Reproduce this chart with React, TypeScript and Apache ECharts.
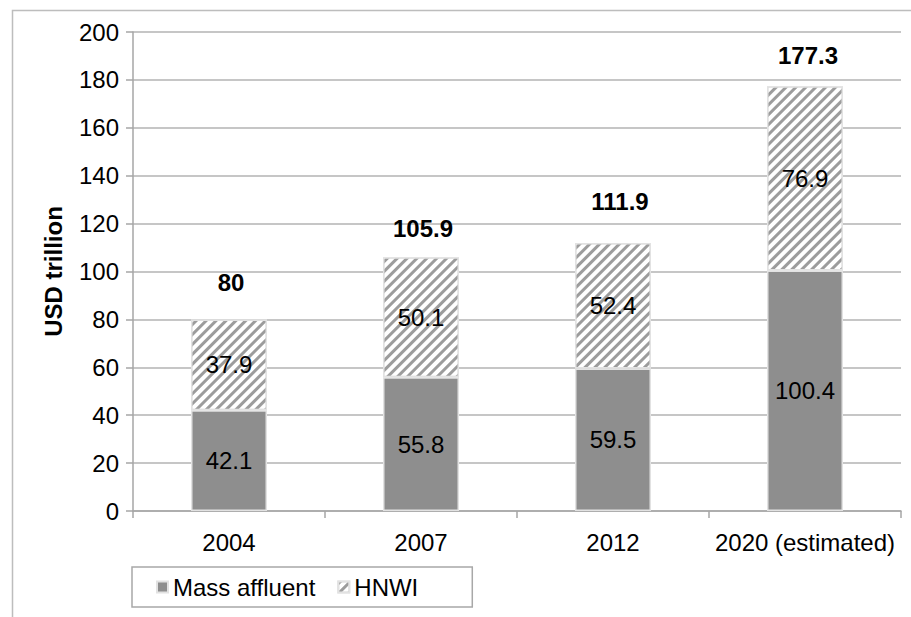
import React, { useEffect, useRef } from "react";
import * as echarts from "echarts";

const categories = ["2004", "2007", "2012", "2020 (estimated)"];
const massAffluent = [42.1, 55.8, 59.5, 100.4];
const hnwi = [37.9, 50.1, 52.4, 76.9];
const totals = [80, 105.9, 111.9, 177.3];
const yTicks = { min: 0, max: 200, interval: 20 };

const FONT = "'Liberation Sans', Arial, sans-serif";
const FS = 24;
const totalLabelDistance = [25, 17, 29, 19];
const totalLabelShiftX = [2, 2, 7, 3];

export default function App() {
  const ref = useRef<HTMLDivElement>(null);
  useEffect(() => {
    if (!ref.current) return;
    const chart = echarts.init(ref.current, undefined, { renderer: "svg" });
    const hatch = {
      symbol: "rect",
      symbolSize: 1,
      dashArrayX: [1, 0],
      dashArrayY: [3, 3.6],
      rotation: -Math.PI / 4,
      color: "#9c9c9c",
      backgroundColor: "#ffffff",
    };
    const lbl = {
      show: true,
      position: "inside",
      fontSize: FS,
      color: "#000",
      textBorderWidth: 0,
      fontFamily: FONT,
    };
    chart.setOption({
      animation: false,
      backgroundColor: "#ffffff",
      textStyle: { fontFamily: FONT },
      graphic: [
        {
          type: "rect",
          shape: { x: 12.5, y: 10.5, width: 1000, height: 1000 },
          style: { fill: "none", stroke: "#bdbdbd", lineWidth: 1.5 },
          silent: true,
          z: -10,
        },
      ],
      grid: { left: 133, right: 10, top: 32, bottom: 106, containLabel: false },
      legend: {
        left: 132,
        top: 567,
        orient: "horizontal",
        padding: [8, 54, 8, 24],
        borderColor: "#a8a8a8",
        borderWidth: 1.5,
        itemWidth: 11,
        itemHeight: 11,
        itemGap: 22,
        textStyle: { fontSize: FS, color: "#000", fontFamily: FONT },
        data: [
          { name: "Mass affluent", icon: "rect" },
          { name: "HNWI", icon: "rect" },
        ],
      },
      xAxis: {
        type: "category",
        data: categories,
        axisLine: { lineStyle: { color: "#a6a6a6", width: 1.5 } },
        axisTick: { show: true, length: 7, lineStyle: { color: "#a6a6a6", width: 1.5 } },
        axisLabel: { interval: 0, fontSize: FS, color: "#000", margin: 19, fontFamily: FONT },
      },
      yAxis: {
        type: "value",
        min: yTicks.min,
        max: yTicks.max,
        interval: yTicks.interval,
        name: "USD trillion",
        nameLocation: "middle",
        nameGap: 68,
        nameTextStyle: { fontSize: FS, fontWeight: "bold", color: "#000", fontFamily: FONT },
        axisLine: { show: true, lineStyle: { color: "#a6a6a6", width: 1.5 } },
        axisTick: { show: true, length: 7, lineStyle: { color: "#a6a6a6", width: 1.5 } },
        axisLabel: { fontSize: FS, color: "#000", margin: 14, fontFamily: FONT },
        splitLine: { lineStyle: { color: "#b3b3b3", width: 1.5 } },
      },
      series: [
        {
          name: "Mass affluent",
          type: "bar",
          stack: "total",
          barWidth: 76,
          data: massAffluent,
          itemStyle: { color: "#8e8e8e", borderColor: "#e2e2e2", borderWidth: 1.5 },
          label: lbl,
        },
        {
          name: "HNWI",
          type: "bar",
          stack: "total",
          barWidth: 76,
          data: hnwi,
          itemStyle: { color: "#ffffff", borderColor: "#e2e2e2", borderWidth: 1.5, decal: hatch },
          label: lbl,
        },
        {
          name: "Total",
          type: "scatter",
          symbolSize: 0,
          silent: true,
          itemStyle: { opacity: 1 },
          data: totals.map((v, i) => ({
            value: v,
            label: { distance: totalLabelDistance[i], offset: [totalLabelShiftX[i], 0] },
          })),
          label: {
            show: true,
            position: "top",
            fontSize: FS,
            fontWeight: "bold",
            color: "#000",
            opacity: 1,
            textBorderWidth: 0,
            fontFamily: FONT,
          },
        },
      ],
    });
    return () => chart.dispose();
  }, []);
  return (
    <div
      ref={ref}
      style={{ position: "fixed", left: 0, top: 0, width: 911, height: 617 }}
    />
  );
}
